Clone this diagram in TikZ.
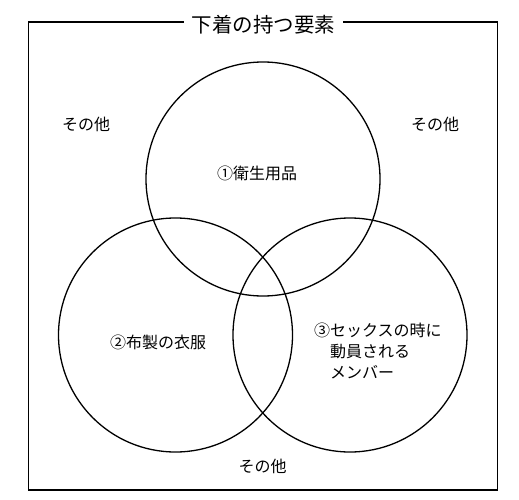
\documentclass[tikz,border=0pt]{standalone}
\usepackage{fontspec}
\setmainfont{Noto Sans CJK JP}
\begin{document}
\begin{tikzpicture}[x=1pt,y=-1pt,
    set/.style={line width=1.3pt},
    label/.style={font=\fontsize{16}{21}\selectfont,inner sep=0pt}]
                \useasboundingbox (0,0) rectangle (519,500);
                \draw[line width=1.6pt] (28.5,22) rectangle (497.5,490);
                \node[fill=white,inner xsep=8pt,inner ysep=2pt,font=\fontsize{20.5}{24}\selectfont] (title) at (263.5,25) {下着の持つ要素};

                \draw[set] (263,179) circle (117);
                \draw[set] (175.5,335) circle (117);
                \draw[set] (350,335) circle (117);

                \node[label] (hygiene) at (257,173) {①衛生用品};
                \node[label] (cloth) at (158,342) {②布製の衣服};
                \node[label,anchor=west,align=left] (member) at (314,351) {③セックスの時に\\　動員される\\　メンバー};
                \node[label] (otherleft) at (86,124) {その他};
                \node[label] (otherright) at (435,124) {その他};
                \node[label] (otherbottom) at (262.5,466) {その他};
            \end{tikzpicture}
\end{document}
